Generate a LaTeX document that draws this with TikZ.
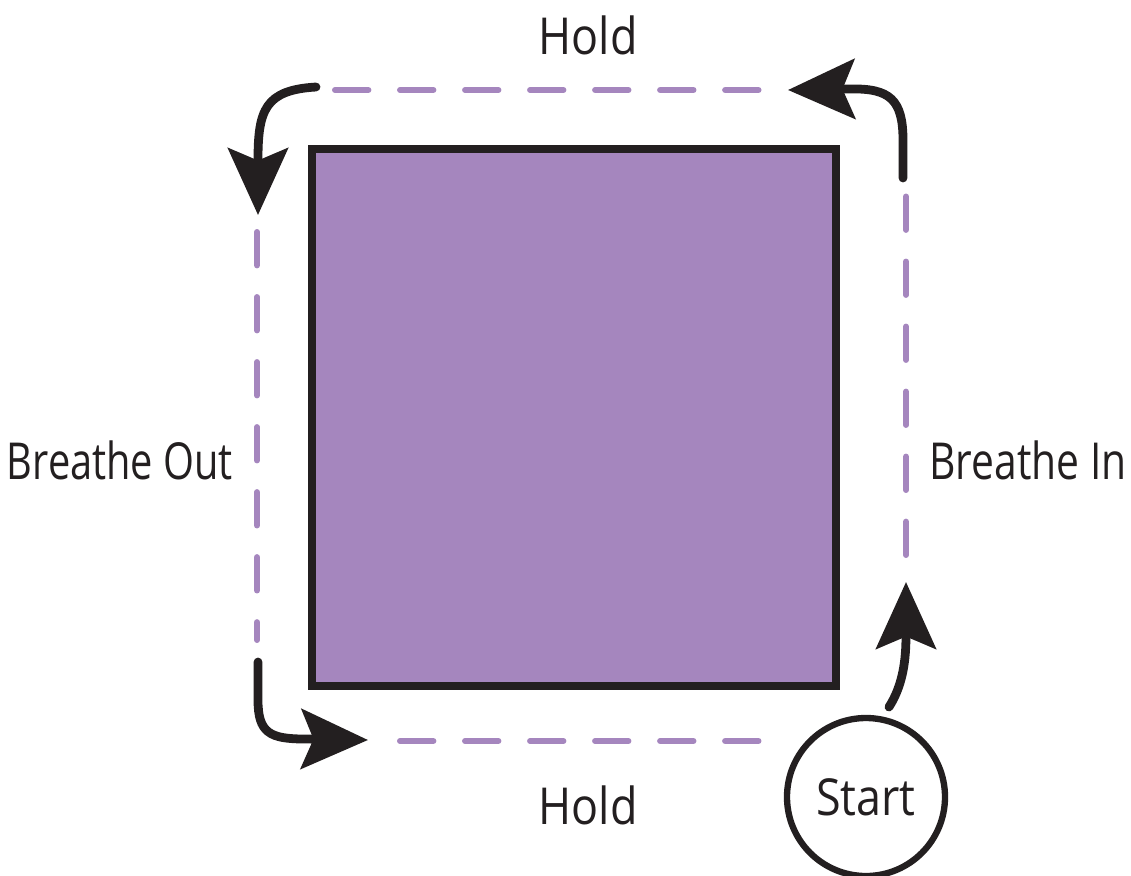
\documentclass[tikz,border=0pt]{standalone}
\usepackage{fontspec}
\setmainfont{Open Sans}
\usetikzlibrary{arrows.meta}
\definecolor{boxpurple}{HTML}{A586BE}
\definecolor{inkblack}{HTML}{231F20}
\begin{document}
\begin{tikzpicture}[x=0.2mm, y=-0.2mm,
    breath/.style={draw=boxpurple, line width=3.4pt, line cap=round, dash pattern=on 19pt off 18pt},
    turn/.style={draw=inkblack, line width=5pt, line cap=round, -{Stealth[length=38pt, width=34pt, inset=7pt]}},
    lbl/.style={font=\fontsize{29}{31}\selectfont, text=inkblack}]
    \useasboundingbox (0,0) rectangle (1131,875);

    % the square
    \draw[inkblack, fill=boxpurple, line width=4pt] (312,149) rectangle (836,686);

    % dashed track round it
    \draw[breath] (335,90) -- (770,90);
    \draw[breath] (906,555) -- (906,180);
    \draw[breath] (257,232) -- (257,640);
    \draw[breath] (400,741) -- (765,741);

    % labels
    \node[lbl] (holdtop) at (588,35) {\scalebox{0.88}[1]{Hold}};
    \node[lbl] (holdbot) at (588,805) {\scalebox{0.88}[1]{Hold}};
    \node[lbl] (out) at (120,460) {\scalebox{0.78}[1]{Breathe Out}};
    \node[lbl] (in) at (1028,460) {\scalebox{0.8}[1]{Breathe In}};

    % start
    \node[lbl, draw=inkblack, line width=3.6pt, circle, minimum size=31.6mm, inner sep=0pt] (start) at (866,797) {\scalebox{0.88}[1]{Start}};

    % corner turns
    \coordinate (tl) at (316,87);
    \coordinate (tlend) at (258,215);
    \coordinate (tr) at (903,178);
    \coordinate (trend) at (788,90);
    \coordinate (bl) at (258,662);
    \coordinate (blend) at (368,740);
    \coordinate (br) at (889,707);
    \coordinate (brend) at (906,582);
    \draw[turn] (tl) .. controls (265,90) and (258,110) .. (258,160) -- (tlend);
    \draw[turn] (tr) -- (903,140) .. controls (903,100) and (890,88) .. (850,89) -- (trend);
    \draw[turn] (bl) -- (258,700) .. controls (258,733) and (270,739) .. (305,739) -- (blend);
    \draw[turn] (br) .. controls (903,685) and (906,660) .. (906,635) -- (brend);
\end{tikzpicture}
\end{document}
